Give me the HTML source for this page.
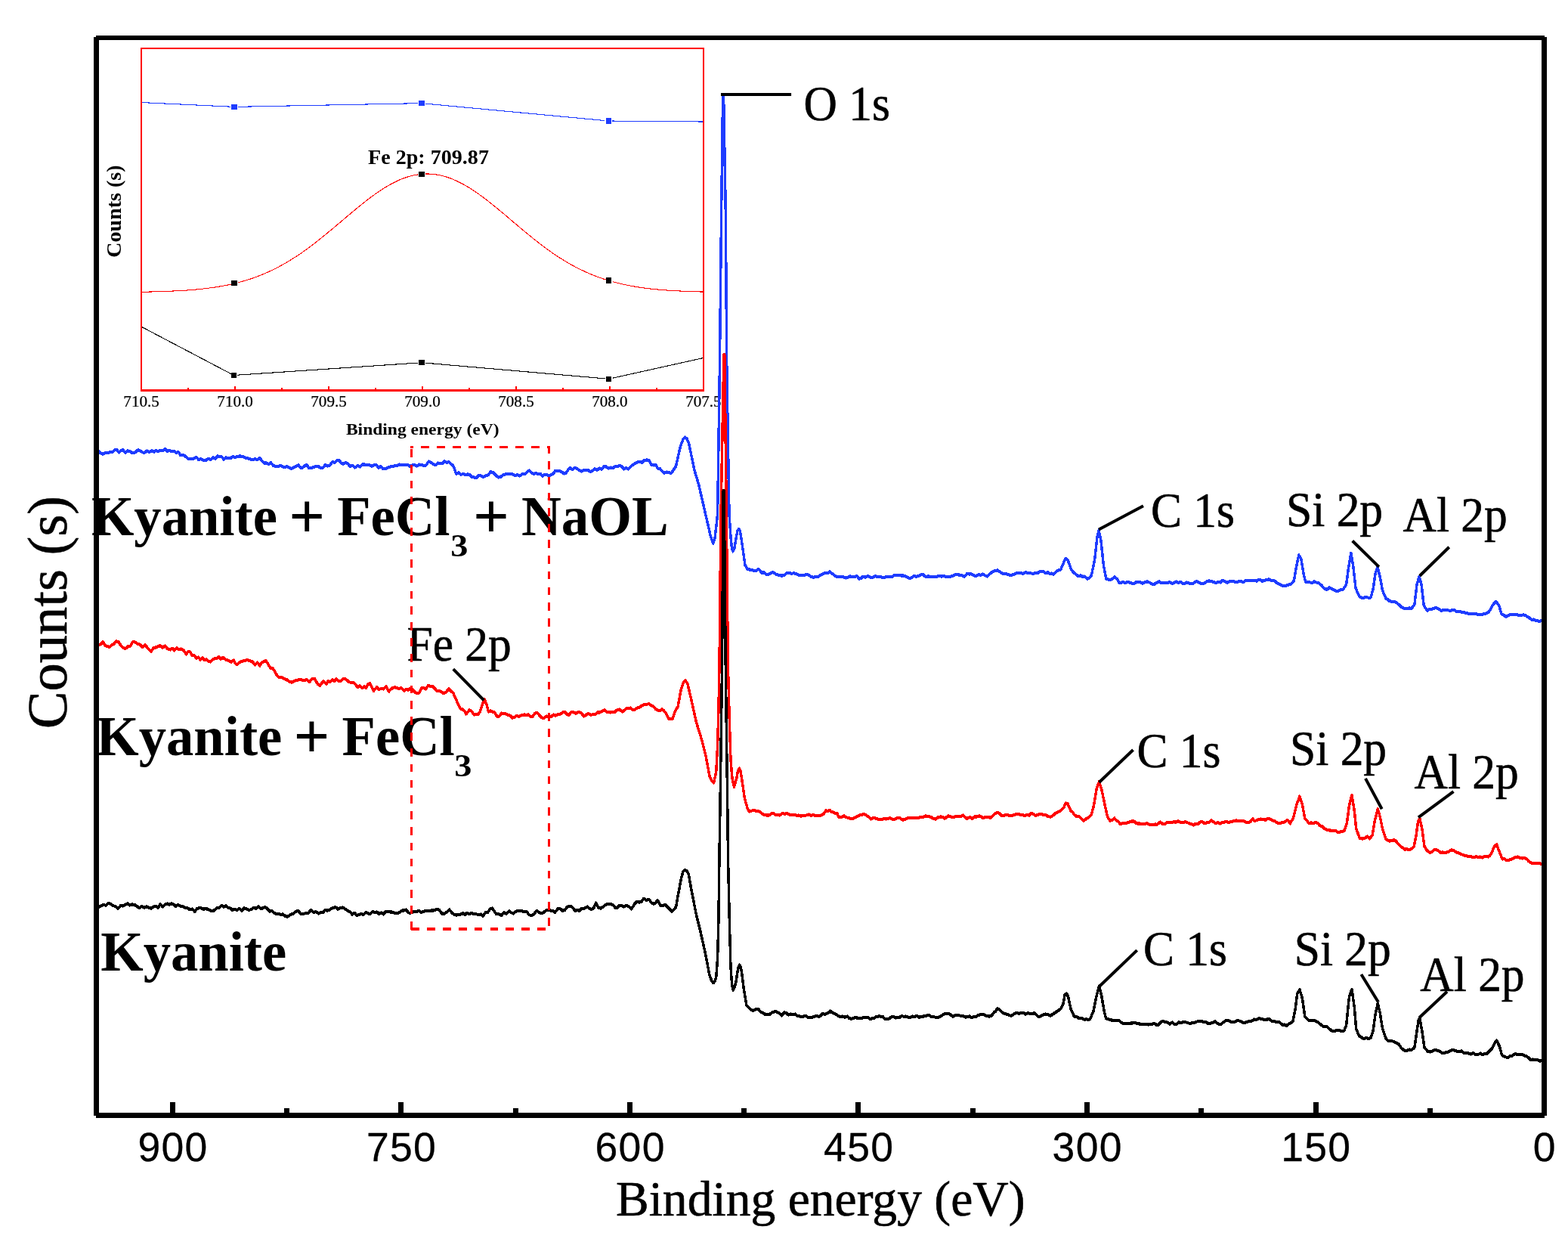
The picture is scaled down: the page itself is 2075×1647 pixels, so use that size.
<!DOCTYPE html>
<html><head><meta charset="utf-8"><title>XPS survey spectra</title>
<style>html,body{margin:0;padding:0;background:#fff}body{width:2075px;height:1647px;overflow:hidden}svg{display:block}</style>
</head><body>
<svg width="2075" height="1647" viewBox="0 0 2075 1647">
<rect x="0" y="0" width="2075" height="1647" fill="#fff"/>
<g shape-rendering="crispEdges"><polyline points="188,135.6 310.2,141.4 557.7,136.6 805.3,160 930,161" fill="none" stroke="#1e3cff" stroke-width="1.1"/>
<polyline points="187.5,386.3 191.5,386.2 195.5,386.1 199.5,386.0 203.5,385.9 207.5,385.8 211.5,385.7 215.5,385.6 219.5,385.5 223.5,385.3 227.5,385.1 231.5,384.9 235.5,384.7 239.5,384.5 243.5,384.3 247.5,384.0 251.5,383.7 255.5,383.4 259.5,383.0 263.5,382.6 267.5,382.2 271.5,381.7 275.5,381.2 279.5,380.7 283.5,380.1 287.5,379.5 291.5,378.8 295.5,378.1 299.5,377.4 303.5,376.5 307.5,375.6 311.5,374.7 315.5,373.7 319.5,372.6 323.5,371.5 327.5,370.2 331.5,369.0 335.5,367.6 339.5,366.1 343.5,364.6 347.5,363.0 351.5,361.3 355.5,359.5 359.5,357.7 363.5,355.7 367.5,353.7 371.5,351.5 375.5,349.3 379.5,347.0 383.5,344.6 387.5,342.1 391.5,339.6 395.5,336.9 399.5,334.2 403.5,331.4 407.5,328.5 411.5,325.5 415.5,322.5 419.5,319.4 423.5,316.2 427.5,313.0 431.5,309.7 435.5,306.4 439.5,303.1 443.5,299.7 447.5,296.4 451.5,293.0 455.5,289.6 459.5,286.2 463.5,282.8 467.5,279.5 471.5,276.1 475.5,272.9 479.5,269.6 483.5,266.5 487.5,263.4 491.5,260.4 495.5,257.5 499.5,254.6 503.5,251.9 507.5,249.4 511.5,246.9 515.5,244.6 519.5,242.4 523.5,240.4 527.5,238.5 531.5,236.9 535.5,235.3 539.5,234.0 543.5,232.9 547.5,231.9 551.5,231.1 555.5,230.6 559.5,230.2 563.5,230.0 567.5,230.0 571.5,230.3 575.5,230.7 579.5,231.3 583.5,232.1 587.5,233.1 591.5,234.3 595.5,235.7 599.5,237.3 603.5,239.0 607.5,240.9 611.5,242.9 615.5,245.2 619.5,247.5 623.5,250.0 627.5,252.6 631.5,255.3 635.5,258.2 639.5,261.1 643.5,264.1 647.5,267.3 651.5,270.4 655.5,273.7 659.5,277.0 663.5,280.3 667.5,283.6 671.5,287.0 675.5,290.4 679.5,293.8 683.5,297.2 687.5,300.6 691.5,303.9 695.5,307.3 699.5,310.6 703.5,313.8 707.5,317.0 711.5,320.1 715.5,323.2 719.5,326.2 723.5,329.2 727.5,332.1 731.5,334.9 735.5,337.6 739.5,340.2 743.5,342.8 747.5,345.2 751.5,347.6 755.5,349.9 759.5,352.1 763.5,354.2 767.5,356.2 771.5,358.1 775.5,360.0 779.5,361.7 783.5,363.4 787.5,365.0 791.5,366.5 795.5,367.9 799.5,369.3 803.5,370.6 807.5,371.8 811.5,372.9 815.5,373.9 819.5,374.9 823.5,375.9 827.5,376.7 831.5,377.6 835.5,378.3 839.5,379.0 843.5,379.7 847.5,380.3 851.5,380.9 855.5,381.4 859.5,381.9 863.5,382.3 867.5,382.7 871.5,383.1 875.5,383.4 879.5,383.8 883.5,384.1 887.5,384.3 891.5,384.6 895.5,384.8 899.5,385.0 903.5,385.2 907.5,385.3 911.5,385.5 915.5,385.6 919.5,385.8 923.5,385.9 927.5,386.0 931.5,386.1" fill="none" stroke="#ff0000" stroke-width="1.1"/>
<polyline points="188,432.7 309.4,496.5 558,479.7 805.5,501.3 930,473.7" fill="none" stroke="#000" stroke-width="1.1"/>
<rect x="305.2" y="139.9" width="10.0" height="3.0" fill="#fff"/>
<rect x="306.4" y="137.8" width="7.6" height="7.2" fill="#1e3cff"/>
<rect x="552.7" y="135.1" width="10.0" height="3.0" fill="#fff"/>
<rect x="553.9" y="133.0" width="7.6" height="7.2" fill="#1e3cff"/>
<rect x="800.3" y="158.5" width="10.0" height="3.0" fill="#fff"/>
<rect x="801.5" y="156.4" width="7.6" height="7.2" fill="#1e3cff"/>
<rect x="304.8" y="372.9" width="10.0" height="3.0" fill="#fff"/>
<rect x="306.0" y="370.8" width="7.6" height="7.2" fill="#000"/>
<rect x="552.7" y="229.0" width="10.0" height="3.0" fill="#fff"/>
<rect x="553.9" y="226.9" width="7.6" height="7.2" fill="#000"/>
<rect x="800.5" y="369.5" width="10.0" height="3.0" fill="#fff"/>
<rect x="801.7" y="367.4" width="7.6" height="7.2" fill="#000"/>
<rect x="304.4" y="495.0" width="10.0" height="3.0" fill="#fff"/>
<rect x="305.6" y="492.9" width="7.6" height="7.2" fill="#000"/>
<rect x="553.0" y="478.2" width="10.0" height="3.0" fill="#fff"/>
<rect x="554.2" y="476.1" width="7.6" height="7.2" fill="#000"/>
<rect x="800.5" y="499.8" width="10.0" height="3.0" fill="#fff"/>
<rect x="801.7" y="497.7" width="7.6" height="7.2" fill="#000"/>
<rect x="187.1" y="64.1" width="743.8" height="452.2" fill="none" stroke="#ff0000" stroke-width="2"/>
<line x1="186.1" y1="516.3" x2="931.9" y2="516.3" stroke="#ff0000" stroke-width="3.6" />
<line x1="249.1" y1="512.5" x2="249.1" y2="516.3" stroke="#ff0000" stroke-width="2" />
<line x1="311.1" y1="510.9" x2="311.1" y2="516.3" stroke="#ff0000" stroke-width="2" />
<line x1="373.0" y1="512.5" x2="373.0" y2="516.3" stroke="#ff0000" stroke-width="2" />
<line x1="435.0" y1="510.9" x2="435.0" y2="516.3" stroke="#ff0000" stroke-width="2" />
<line x1="497.0" y1="512.5" x2="497.0" y2="516.3" stroke="#ff0000" stroke-width="2" />
<line x1="559.0" y1="510.9" x2="559.0" y2="516.3" stroke="#ff0000" stroke-width="2" />
<line x1="621.0" y1="512.5" x2="621.0" y2="516.3" stroke="#ff0000" stroke-width="2" />
<line x1="683.0" y1="510.9" x2="683.0" y2="516.3" stroke="#ff0000" stroke-width="2" />
<line x1="745.0" y1="512.5" x2="745.0" y2="516.3" stroke="#ff0000" stroke-width="2" />
<line x1="806.9" y1="510.9" x2="806.9" y2="516.3" stroke="#ff0000" stroke-width="2" />
<line x1="868.9" y1="512.5" x2="868.9" y2="516.3" stroke="#ff0000" stroke-width="2" />
<text transform="translate(187.10,538.00) scale(1.0350,1)" font-family="'Liberation Serif',serif" font-size="20.40px" font-weight="normal" text-anchor="middle" fill="#000"  stroke="#000" stroke-width="0.25" stroke-linejoin="round">710.5</text>
<text transform="translate(311.07,538.00) scale(1.0350,1)" font-family="'Liberation Serif',serif" font-size="20.40px" font-weight="normal" text-anchor="middle" fill="#000"  stroke="#000" stroke-width="0.25" stroke-linejoin="round">710.0</text>
<text transform="translate(435.03,538.00) scale(1.0350,1)" font-family="'Liberation Serif',serif" font-size="20.40px" font-weight="normal" text-anchor="middle" fill="#000"  stroke="#000" stroke-width="0.25" stroke-linejoin="round">709.5</text>
<text transform="translate(559.00,538.00) scale(1.0350,1)" font-family="'Liberation Serif',serif" font-size="20.40px" font-weight="normal" text-anchor="middle" fill="#000"  stroke="#000" stroke-width="0.25" stroke-linejoin="round">709.0</text>
<text transform="translate(682.97,538.00) scale(1.0350,1)" font-family="'Liberation Serif',serif" font-size="20.40px" font-weight="normal" text-anchor="middle" fill="#000"  stroke="#000" stroke-width="0.25" stroke-linejoin="round">708.5</text>
<text transform="translate(806.93,538.00) scale(1.0350,1)" font-family="'Liberation Serif',serif" font-size="20.40px" font-weight="normal" text-anchor="middle" fill="#000"  stroke="#000" stroke-width="0.25" stroke-linejoin="round">708.0</text>
<text transform="translate(930.90,538.00) scale(1.0350,1)" font-family="'Liberation Serif',serif" font-size="20.40px" font-weight="normal" text-anchor="middle" fill="#000"  stroke="#000" stroke-width="0.25" stroke-linejoin="round">707.5</text>
<text transform="translate(559.20,574.80) scale(1.0700,1)" font-family="'Liberation Serif',serif" font-size="22.00px" font-weight="bold" text-anchor="middle" fill="#000" >Binding energy (eV)</text>
<text transform="translate(160.20,279.60) rotate(-90)" font-family="'Liberation Serif',serif" font-size="28.00px" font-weight="bold" text-anchor="middle" fill="#000" >Counts (s)</text>
<text transform="translate(567.00,217.30) scale(1.0600,1)" font-family="'Liberation Serif',serif" font-size="26.50px" font-weight="bold" text-anchor="middle" fill="#000" >Fe 2p: 709.87</text></g>
<text font-family="'Liberation Serif',serif" font-weight="bold" font-size="75px" fill="#000"><tspan x="120.90" y="707.80" textLength="246.02" lengthAdjust="spacingAndGlyphs">Kyanite</tspan> <tspan x="382.30" y="710.90" font-size="84px">+</tspan> <tspan x="446.20" y="707.80" textLength="149.18" lengthAdjust="spacingAndGlyphs">FeCl</tspan><tspan x="596.20" y="736.30" font-size="42px" textLength="23.10" lengthAdjust="spacingAndGlyphs">3</tspan> <tspan x="626.10" y="710.90" font-size="84px">+</tspan> <tspan x="690.00" y="707.80" textLength="194.83" lengthAdjust="spacingAndGlyphs">NaOL</tspan></text>
<text font-family="'Liberation Serif',serif" font-weight="bold" font-size="75px" fill="#000"><tspan x="127.30" y="998.80" textLength="246.02" lengthAdjust="spacingAndGlyphs">Kyanite</tspan> <tspan x="388.60" y="1001.90" font-size="84px">+</tspan> <tspan x="452.60" y="998.80" textLength="149.18" lengthAdjust="spacingAndGlyphs">FeCl</tspan><tspan x="601.30" y="1027.30" font-size="42px" textLength="23.10" lengthAdjust="spacingAndGlyphs">3</tspan></text>
<text font-family="'Liberation Serif',serif" font-weight="bold" font-size="75px" fill="#000"><tspan x="133.20" y="1283.80" textLength="246.02" lengthAdjust="spacingAndGlyphs">Kyanite</tspan></text>
<g shape-rendering="crispEdges"><polyline transform="scale(1,1.2)" points="127.5,497.25 130.4,497.36 133.3,499.64 136.2,500.58 139.5,499.25 142.7,499.32 146.0,498.08 148.8,498.42 151.7,496.13 154.5,495.78 157.3,498.79 160.1,496.43 162.9,496.19 165.8,498.96 168.6,496.92 172.0,497.47 175.3,499.54 178.7,498.92 182.8,495.83 185.5,496.85 188.2,498.59 190.9,499.17 194.3,497.08 197.6,498.18 201.0,496.92 203.8,498.20 206.5,496.76 209.2,497.47 212.0,496.42 215.1,497.07 218.2,494.75 221.2,497.41 224.3,496.42 227.3,497.68 230.4,497.49 233.4,499.17 236.1,498.12 238.8,502.07 241.5,501.42 244.3,502.37 247.1,504.38 249.8,506.06 252.6,505.67 256.1,505.65 259.7,504.00 262.7,506.73 265.8,505.82 268.8,507.33 272.1,507.74 275.4,505.62 278.7,506.75 282.0,504.33 284.9,505.86 287.7,502.93 290.6,503.15 293.4,503.53 296.3,506.47 299.1,504.52 302.0,504.83 305.1,505.04 308.1,503.52 311.2,504.03 314.3,503.28 317.3,502.87 320.4,503.17 323.8,504.33 327.1,505.16 330.5,505.67 333.8,507.01 337.1,505.95 340.4,506.69 343.7,504.83 346.7,508.06 349.8,510.44 352.8,510.42 355.7,511.55 358.6,510.08 361.5,513.23 364.3,514.10 367.2,514.35 370.1,513.54 373.0,513.75 376.3,515.26 379.7,514.03 383.0,515.83 385.9,516.75 388.8,515.40 391.7,513.94 394.7,512.73 397.6,515.40 400.5,515.57 403.4,513.33 406.1,512.59 408.8,516.15 411.5,515.83 414.7,515.19 417.9,513.90 421.1,514.15 424.2,515.67 427.4,515.77 430.6,512.30 433.8,513.75 436.9,512.67 439.9,508.96 442.9,510.02 446.0,507.67 448.8,507.65 451.6,510.39 454.4,511.41 457.2,510.22 460.0,510.83 463.3,514.27 466.7,513.16 470.0,515.42 473.3,513.26 476.6,514.73 479.8,512.02 483.1,512.12 486.4,512.75 489.3,512.74 492.2,513.86 495.2,512.46 498.1,512.37 501.0,515.87 503.9,514.09 506.9,516.91 509.8,517.01 512.7,515.83 515.9,514.61 519.2,514.18 522.4,513.66 525.7,513.38 528.9,512.08 531.7,512.55 534.5,512.52 537.2,512.86 540.0,512.50 542.9,514.31 545.8,512.77 548.7,512.59 551.7,513.82 554.6,512.09 557.5,512.45 560.4,513.33 563.9,512.83 567.4,508.67 570.5,510.11 573.5,511.57 576.6,512.75 579.5,510.25 582.3,511.17 585.2,511.18 588.1,508.41 590.9,510.07 593.8,509.00 596.8,511.67 599.8,513.33 603.9,522.50 606.9,520.88 609.9,523.12 613.0,522.57 616.0,523.45 619.0,522.83 621.7,523.41 624.5,525.90 627.2,526.25 630.2,527.06 633.2,524.21 636.3,524.25 639.3,525.83 642.7,524.56 646.0,523.72 649.4,520.00 652.8,521.13 656.2,524.00 659.6,526.25 662.6,525.67 665.7,523.69 668.7,522.92 671.7,522.50 674.9,522.20 678.2,522.83 681.4,524.12 684.7,523.40 687.9,524.58 691.3,522.58 694.6,522.57 698.0,520.00 700.8,518.75 703.7,521.40 706.5,522.60 709.4,521.54 712.2,522.83 715.0,522.20 717.9,524.86 720.7,523.13 723.6,523.37 726.4,525.00 729.2,523.21 732.0,522.68 734.7,518.85 737.5,518.83 740.5,519.26 743.6,520.42 746.6,522.17 749.3,521.33 752.0,517.71 754.7,515.83 757.6,517.66 760.5,515.49 763.5,516.60 766.4,518.26 769.3,519.62 772.2,518.42 775.2,518.02 778.1,518.08 781.0,520.00 784.0,519.16 787.1,516.90 790.2,518.30 793.2,516.17 796.2,517.21 799.2,514.45 802.3,514.57 805.3,516.34 808.3,515.46 811.4,515.84 814.4,513.82 817.4,514.17 820.2,513.35 823.1,514.57 825.9,517.09 828.8,515.69 831.6,517.17 834.3,514.55 837.0,512.79 839.7,511.08 843.0,509.84 846.3,508.86 849.6,509.88 852.9,507.33 855.9,507.05 858.9,507.50 862.0,512.13 865.0,512.92 868.0,512.50 870.7,516.59 873.4,516.69 876.1,519.17 879.1,521.52 882.2,520.42 885.2,521.04 888.3,521.67 891.3,517.92 894.4,514.17 897.4,503.17 900.4,492.17 904.0,484.17 906.5,482.08 909.0,483.75 911.6,488.83 915.2,503.17 918.7,517.50 921.7,525.92 924.7,534.33 928.1,546.69 931.5,559.06 934.9,571.42 937.5,580.71 940.0,590.00 943.7,599.00 946.0,593.33 948.0,579.17 949.6,566.67 952.4,405.00 954.6,233.33 956.6,105.83 957.6,105.83 960.3,233.33 961.8,405.00 965.0,566.67 967.0,591.67 968.5,604.17 970.0,607.92 972.0,604.17 974.0,593.33 976.0,585.00 977.8,583.17 979.5,585.83 981.0,593.33 983.5,608.21 986.0,623.08 989.0,627.25 991.9,627.94 994.9,628.18 997.8,629.33 1000.9,628.96 1004.0,627.25 1007.9,631.42 1011.0,631.22 1014.0,633.00 1017.0,633.15 1020.0,631.98 1023.0,630.83 1026.1,632.69 1029.2,633.57 1032.3,634.51 1035.4,634.58 1038.3,633.69 1041.3,631.42 1044.2,631.42 1047.3,632.48 1050.5,631.76 1053.6,632.57 1056.7,633.88 1059.9,634.11 1063.0,634.58 1065.8,633.60 1068.6,633.00 1073.0,635.58 1076.3,636.53 1079.7,635.83 1083.0,635.58 1086.2,633.78 1089.3,632.67 1092.2,631.35 1095.1,631.89 1098.0,630.33 1100.0,631.83 1102.8,633.17 1105.6,635.22 1108.4,636.00 1111.1,635.78 1113.8,635.54 1116.6,636.38 1119.3,637.09 1122.0,636.50 1124.9,635.33 1127.8,636.22 1130.8,636.04 1133.7,634.67 1137.0,638.17 1139.5,637.54 1142.0,635.58 1145.2,636.40 1148.4,634.75 1151.6,636.21 1154.8,636.83 1157.9,635.18 1161.1,635.78 1164.3,635.88 1167.5,636.50 1170.7,636.33 1173.8,635.87 1177.0,635.75 1180.2,636.18 1183.3,634.27 1186.5,634.16 1189.6,634.09 1192.8,634.67 1195.5,634.52 1198.3,635.06 1201.0,636.67 1203.7,637.43 1206.5,636.90 1209.2,634.97 1212.0,635.60 1214.7,635.33 1218.1,633.89 1221.4,633.25 1224.8,635.83 1227.8,635.43 1230.8,635.51 1233.8,636.15 1236.8,636.02 1239.8,635.53 1242.8,635.16 1245.8,635.46 1248.8,635.02 1251.8,635.83 1254.9,635.63 1258.0,635.66 1261.1,634.62 1264.2,633.65 1267.3,633.54 1270.4,633.92 1273.3,634.48 1276.3,635.58 1279.6,632.50 1282.5,632.89 1285.5,632.83 1289.7,634.67 1292.5,634.82 1295.2,633.49 1298.0,633.94 1300.7,632.83 1303.7,634.47 1306.6,635.58 1309.5,633.06 1312.5,630.83 1316.2,629.43 1320.0,628.58 1323.0,630.20 1326.0,631.83 1329.2,632.79 1332.3,632.70 1335.5,633.82 1338.7,633.92 1341.8,633.14 1344.9,631.98 1348.0,631.83 1351.1,631.91 1354.3,632.26 1357.4,630.91 1360.5,631.67 1363.6,631.67 1366.8,632.66 1369.9,631.83 1373.2,631.74 1376.6,629.75 1380.0,629.92 1383.3,631.50 1386.7,631.08 1389.2,632.44 1391.8,632.01 1394.3,633.25 1396.8,631.05 1399.4,629.00 1403.6,628.00 1407.8,619.92 1410.3,615.67 1412.9,617.08 1415.4,622.71 1417.9,628.33 1421.0,631.35 1424.1,633.35 1427.2,635.33 1430.0,634.33 1432.5,635.71 1435.0,635.42 1439.3,638.25 1441.8,636.93 1444.3,634.33 1448.6,617.50 1451.9,592.17 1454.1,584.42 1457.0,596.42 1460.4,623.08 1463.7,637.83 1466.7,638.90 1469.6,639.25 1472.2,638.13 1474.7,636.00 1478.9,638.58 1480.6,642.08 1483.4,642.39 1486.2,641.56 1489.0,642.77 1491.9,641.68 1494.7,642.14 1497.5,643.08 1500.4,643.55 1503.4,641.85 1506.3,641.82 1509.2,641.72 1512.2,643.28 1515.1,641.64 1518.1,641.18 1521.0,642.08 1525.3,643.92 1528.2,643.74 1531.2,642.08 1534.0,641.19 1536.8,642.69 1539.6,642.25 1542.4,642.53 1545.2,642.72 1548.0,641.67 1551.4,643.50 1554.0,642.46 1556.5,641.08 1559.3,642.40 1562.2,641.41 1565.0,643.08 1567.5,643.16 1570.0,642.08 1572.8,642.58 1575.6,643.49 1578.4,643.50 1581.3,641.44 1584.3,641.08 1587.2,642.66 1590.2,643.17 1593.6,643.07 1597.0,641.08 1600.1,640.30 1603.2,641.04 1606.2,641.72 1609.3,642.46 1612.4,641.36 1615.5,642.08 1617.2,640.00 1620.6,640.56 1624.0,642.50 1627.0,641.04 1629.9,640.67 1633.1,641.12 1636.3,641.62 1639.5,641.04 1642.7,641.18 1645.9,641.67 1648.4,640.00 1651.3,639.91 1654.2,639.94 1657.0,640.22 1659.9,639.63 1662.8,640.67 1665.3,638.83 1667.8,639.22 1670.4,640.64 1672.9,640.00 1676.2,639.10 1679.6,638.58 1682.2,639.83 1684.7,640.00 1687.2,640.51 1689.7,642.50 1692.8,644.02 1695.9,645.28 1699.0,645.83 1702.1,645.57 1705.2,644.59 1708.3,643.92 1712.5,640.00 1715.9,623.08 1718.8,611.83 1721.8,616.08 1725.2,632.92 1727.7,641.33 1730.6,641.45 1733.4,641.94 1736.3,642.64 1739.1,641.17 1742.0,642.08 1745.7,643.04 1749.3,645.75 1752.0,648.25 1754.7,649.67 1757.0,649.57 1759.3,647.67 1762.1,649.01 1765.0,650.15 1767.8,651.58 1770.9,651.61 1773.9,650.01 1777.0,650.25 1779.3,647.38 1781.6,644.50 1784.7,625.17 1787.8,609.75 1790.9,625.17 1794.0,648.33 1796.3,652.83 1798.6,657.33 1800.9,658.48 1803.2,659.25 1805.9,658.68 1808.6,658.34 1811.3,659.16 1814.0,658.58 1817.1,649.58 1820.2,631.67 1823.0,625.17 1826.4,636.75 1829.5,650.83 1831.8,655.38 1834.0,659.92 1836.3,660.77 1838.7,662.50 1841.8,663.24 1844.9,663.08 1848.0,664.52 1851.0,666.33 1854.5,669.35 1858.0,670.83 1861.3,671.02 1864.7,670.33 1868.0,670.83 1871.9,666.33 1875.0,644.50 1878.0,635.50 1881.1,644.50 1884.2,667.50 1886.5,670.42 1888.8,673.33 1891.5,671.38 1894.2,671.50 1897.3,670.66 1900.4,669.92 1903.8,671.37 1907.3,673.33 1910.2,672.53 1913.2,672.84 1916.2,672.66 1919.1,673.54 1922.0,672.08 1925.0,672.75 1928.1,674.46 1931.2,674.00 1934.3,674.90 1937.4,675.33 1940.5,675.58 1943.6,676.70 1946.7,676.99 1949.8,676.73 1952.9,676.89 1956.0,677.25 1958.7,677.50 1961.3,677.56 1964.0,676.35 1966.7,676.33 1969.0,675.34 1971.3,673.33 1973.7,669.83 1976.0,666.33 1979.8,663.08 1983.7,667.50 1986.8,676.67 1989.9,678.18 1993.0,679.83 1996.1,678.39 1999.1,677.54 2002.2,677.25 2005.0,677.80 2007.7,677.80 2010.5,678.49 2013.2,678.35 2016.0,677.67 2018.7,678.52 2021.5,679.83 2024.2,681.39 2026.9,683.33 2029.7,682.82 2032.5,684.11 2035.3,684.61 2038.2,684.87 2041.0,683.64 2043.8,684.33" fill="none" stroke="#1e3cff" stroke-width="3.45" stroke-linejoin="round" stroke-linecap="butt"/>
<polyline transform="scale(1,1.2)" points="127.5,712.00 130.4,711.08 133.3,710.15 136.2,707.83 139.2,711.46 142.3,712.83 145.1,713.05 147.9,710.79 150.6,710.01 153.4,706.92 156.8,707.64 160.1,711.84 163.5,714.50 166.5,714.87 169.6,712.40 172.6,712.04 175.7,707.68 178.7,707.83 182.1,709.66 185.4,710.75 188.8,713.67 191.9,711.17 194.6,713.58 197.3,715.95 200.0,717.92 203.5,713.93 207.0,713.67 209.8,712.16 212.6,711.99 215.4,714.01 218.2,712.00 221.8,715.14 225.3,716.25 228.1,714.78 230.9,717.06 233.8,714.37 236.6,716.03 239.4,715.42 242.9,716.90 246.5,721.25 249.1,718.09 251.6,718.75 254.3,722.53 257.0,722.36 259.7,725.83 262.4,724.52 265.1,727.24 267.8,725.17 270.5,727.84 273.2,726.86 275.9,728.92 278.6,729.66 281.3,727.01 284.0,725.83 286.8,726.22 289.5,724.12 292.2,726.65 295.0,724.67 298.5,727.06 302.0,728.00 305.6,729.79 309.3,728.00 311.8,731.76 314.3,732.50 317.4,729.94 320.4,728.92 323.8,728.27 327.1,727.41 330.5,728.58 334.1,729.48 337.6,733.08 340.6,730.25 343.7,733.92 346.4,730.28 349.1,729.21 351.8,728.00 354.9,732.25 357.9,736.50 360.9,736.68 363.9,740.67 366.4,744.31 369.0,746.58 372.5,746.80 376.0,748.25 379.5,749.23 383.0,751.67 386.4,752.33 389.9,750.48 393.3,750.00 396.3,749.09 399.4,749.51 402.4,750.16 405.4,749.17 409.5,751.67 413.1,748.26 416.6,748.25 420.1,753.86 423.6,755.83 427.7,750.83 431.7,754.17 434.4,750.67 437.1,751.79 439.8,749.17 442.5,751.04 445.2,748.43 447.9,750.83 451.4,750.48 455.0,747.92 458.0,748.93 461.0,751.27 464.0,752.50 467.1,752.28 470.1,754.10 473.2,757.50 476.2,756.00 479.3,758.69 482.3,756.67 484.4,758.33 486.9,754.67 489.4,753.33 491.9,757.50 494.5,761.67 498.5,757.50 501.6,759.98 504.6,759.17 507.6,759.61 510.7,756.67 514.7,762.25 517.2,759.70 519.8,758.33 522.6,757.78 525.3,758.43 528.1,759.39 530.9,758.33 535.0,761.67 537.5,759.75 540.0,760.83 544.0,758.33 546.8,761.23 549.5,763.36 552.3,764.17 555.0,763.60 557.7,758.50 560.4,758.33 563.4,759.63 566.5,755.93 569.5,756.47 572.5,756.67 575.2,758.76 577.9,761.60 580.6,761.67 583.7,762.30 586.7,764.17 590.2,763.29 593.8,759.17 596.8,761.84 599.8,764.17 602.9,769.83 605.9,775.50 609.0,781.17 611.7,781.90 614.3,783.49 617.0,787.08 621.0,782.83 624.1,784.03 627.2,787.92 629.9,787.53 632.6,787.60 635.3,784.58 639.3,774.42 641.3,771.08 644.4,777.83 646.4,784.58 649.0,783.29 651.5,784.58 654.5,785.35 657.5,789.58 660.5,789.78 663.6,786.25 666.7,786.80 669.7,787.08 672.4,788.14 675.1,788.91 677.8,791.33 680.8,790.61 683.8,789.17 687.2,790.00 690.6,788.16 694.0,787.92 696.7,788.31 699.3,787.60 702.0,790.00 705.0,789.72 708.0,786.25 711.1,785.73 714.1,788.77 717.2,791.36 720.3,791.33 723.3,789.46 726.4,790.42 729.4,790.05 732.4,787.92 735.5,789.02 738.5,787.17 741.5,787.15 744.6,785.42 747.3,784.88 750.0,787.11 752.7,788.33 755.7,785.28 758.7,784.92 762.1,786.54 765.5,784.74 768.9,785.83 772.9,789.58 776.0,787.90 779.0,786.58 781.8,788.26 784.7,787.47 787.5,787.71 790.4,785.47 793.2,785.42 796.6,784.08 800.0,782.83 803.6,785.00 807.3,785.42 810.3,785.13 813.4,785.00 816.5,782.70 819.5,782.00 823.5,784.58 826.2,783.08 828.9,780.95 831.6,781.17 834.4,780.43 837.3,782.51 840.1,782.13 843.0,780.59 845.8,779.83 848.8,778.37 851.9,776.92 855.3,776.60 858.6,775.95 862.0,777.83 865.0,779.04 868.0,782.00 870.7,783.08 873.3,783.41 876.0,782.00 878.6,783.51 881.3,786.08 885.0,792.83 887.5,792.83 890.0,792.83 893.8,783.33 897.0,779.17 901.4,759.42 904.5,752.50 907.0,749.83 910.0,754.17 912.5,763.08 915.0,772.00 918.2,783.92 921.4,795.83 923.9,802.78 926.5,809.72 929.0,816.67 931.5,825.00 934.0,833.33 936.5,844.42 939.0,855.50 942.0,860.83 944.6,862.83 947.7,851.33 949.6,822.08 950.9,783.33 952.0,733.33 954.0,566.67 957.9,391.00 958.9,391.00 961.3,566.67 963.4,733.33 965.3,793.92 967.0,837.50 969.0,858.33 971.5,867.50 974.7,858.33 976.5,850.00 978.4,847.17 980.0,850.00 981.6,858.33 985.3,879.50 989.0,890.83 991.6,894.67 995.3,893.69 999.0,893.67 1002.2,894.14 1005.4,894.67 1008.5,897.25 1011.6,898.36 1014.8,898.72 1017.9,898.83 1020.5,897.10 1023.0,896.25 1025.9,898.08 1028.8,898.30 1031.7,898.83 1035.4,896.67 1038.6,897.26 1041.7,896.44 1044.8,898.02 1048.0,898.33 1051.0,897.96 1054.0,899.04 1057.0,898.75 1060.0,899.69 1063.0,899.17 1066.8,898.82 1070.5,897.83 1073.4,898.98 1076.4,898.50 1079.3,899.33 1082.6,899.15 1086.0,898.85 1089.3,897.83 1093.0,893.67 1095.5,894.00 1098.0,892.92 1100.0,895.17 1102.5,895.23 1105.1,896.69 1107.6,896.33 1110.0,900.83 1113.5,900.93 1116.9,899.42 1120.2,901.07 1123.6,901.92 1127.0,902.48 1130.3,901.96 1133.7,900.50 1138.0,898.33 1141.0,898.04 1143.9,897.67 1146.4,898.90 1148.9,900.00 1152.3,902.92 1155.7,901.82 1159.0,902.17 1162.4,903.08 1165.8,903.49 1169.1,902.68 1172.5,902.92 1175.0,902.62 1177.6,901.50 1180.1,902.81 1182.6,903.17 1185.2,902.83 1187.7,901.50 1191.1,902.00 1194.5,903.92 1197.8,903.40 1201.2,901.67 1204.6,901.80 1208.0,901.94 1211.3,901.37 1214.7,901.50 1218.1,901.07 1221.4,900.71 1224.8,899.42 1228.2,900.25 1231.6,900.50 1234.9,902.31 1238.3,903.17 1241.7,900.77 1245.0,900.42 1247.5,900.72 1250.0,902.50 1252.6,900.83 1255.2,899.42 1258.6,900.45 1261.9,900.83 1265.3,899.81 1268.7,900.00 1271.7,899.74 1274.6,898.67 1277.1,900.87 1279.6,902.50 1283.8,900.83 1286.4,902.50 1289.5,900.48 1292.5,900.38 1295.6,899.42 1298.2,899.95 1300.7,901.67 1304.1,900.65 1307.4,900.76 1310.8,901.50 1315.0,898.33 1317.5,896.69 1320.0,895.83 1323.0,896.94 1326.0,899.42 1329.4,898.69 1332.8,898.29 1336.1,899.15 1339.5,899.17 1343.2,897.95 1347.0,897.25 1350.1,898.08 1353.3,898.61 1356.4,899.00 1359.1,897.99 1361.8,899.00 1364.6,896.61 1367.3,897.25 1369.9,899.08 1372.7,898.41 1375.5,897.66 1378.3,897.67 1381.1,898.25 1383.9,898.39 1386.7,900.00 1389.7,900.55 1392.6,899.67 1396.8,896.58 1400.2,894.89 1403.6,893.75 1407.8,890.25 1410.3,885.33 1412.9,886.00 1417.0,893.75 1419.5,895.20 1422.0,898.67 1424.6,899.86 1427.1,899.68 1429.7,901.50 1432.0,903.22 1434.2,904.75 1436.8,902.99 1439.3,901.92 1441.8,900.30 1444.3,898.33 1447.7,887.17 1451.0,870.25 1454.5,861.83 1457.8,870.25 1462.0,887.17 1465.4,899.83 1468.8,904.75 1471.8,904.33 1474.7,901.92 1477.2,904.36 1479.8,905.42 1482.6,908.50 1484.9,907.82 1487.3,907.50 1490.0,907.66 1492.8,906.77 1495.5,905.65 1498.3,905.42 1500.8,905.47 1503.4,907.29 1505.9,907.92 1508.9,907.95 1511.8,908.70 1514.8,908.62 1517.7,907.50 1521.9,909.33 1525.0,909.43 1528.1,908.73 1531.2,908.92 1535.4,906.08 1538.3,908.14 1541.3,908.50 1544.2,906.81 1547.2,906.44 1550.1,906.83 1553.0,906.08 1556.1,906.33 1559.1,905.30 1562.2,906.36 1565.2,906.93 1568.3,906.08 1571.0,906.71 1573.8,907.73 1576.5,908.18 1579.3,909.67 1582.4,908.02 1585.4,908.30 1588.5,906.08 1591.3,906.16 1594.2,907.75 1597.0,907.08 1600.0,906.56 1602.9,904.25 1605.8,906.08 1608.8,907.50 1611.7,906.72 1614.6,908.02 1617.5,906.71 1620.3,906.27 1623.2,905.80 1626.1,906.98 1629.0,905.67 1632.3,905.34 1635.7,904.59 1639.0,904.75 1642.4,905.28 1645.9,905.10 1649.3,906.50 1651.8,906.56 1654.3,906.08 1657.7,902.50 1660.2,905.17 1663.0,904.29 1665.9,903.22 1668.7,902.92 1671.8,903.63 1675.0,903.83 1678.2,902.17 1681.3,903.33 1684.1,904.57 1686.9,905.18 1689.7,906.83 1693.1,907.53 1696.5,906.94 1699.9,906.08 1704.0,904.00 1707.4,907.92 1711.7,901.17 1715.9,887.17 1719.8,878.00 1723.5,887.17 1726.8,902.50 1729.3,904.45 1731.9,907.50 1735.2,907.00 1738.6,907.50 1741.2,906.67 1743.9,907.33 1746.7,910.31 1749.5,910.72 1752.3,913.08 1755.4,914.44 1758.5,915.33 1761.6,915.53 1764.7,916.15 1767.8,916.08 1770.8,917.58 1773.6,917.06 1776.5,916.61 1779.3,915.33 1782.4,907.33 1785.5,888.08 1789.0,876.50 1792.4,894.50 1794.7,913.75 1797.1,918.92 1799.4,924.08 1802.8,924.65 1806.3,924.08 1809.4,922.08 1812.5,924.67 1816.3,920.17 1819.4,904.75 1823.3,891.92 1826.4,900.83 1829.5,913.75 1831.8,919.54 1834.0,925.33 1836.3,926.36 1838.7,927.25 1841.3,926.59 1843.8,926.20 1846.4,926.33 1849.5,929.44 1852.6,932.42 1855.7,934.26 1858.8,936.25 1861.8,936.16 1864.9,936.67 1868.0,935.70 1871.0,933.67 1874.2,920.17 1876.5,906.08 1878.8,902.17 1881.9,913.75 1885.0,933.00 1888.8,938.17 1892.7,940.00 1895.3,939.09 1897.8,936.77 1900.4,936.67 1903.5,937.80 1906.6,940.00 1909.4,939.49 1912.2,940.07 1915.0,939.59 1917.9,938.43 1920.7,936.86 1923.5,937.50 1926.6,939.41 1929.7,939.95 1932.8,941.42 1935.5,942.23 1938.2,943.16 1940.9,943.64 1943.6,944.00 1946.7,944.17 1949.8,945.31 1952.9,944.38 1956.0,944.83 1958.8,944.55 1961.5,945.50 1964.3,944.03 1967.0,944.19 1969.8,944.58 1972.1,942.76 1974.4,939.50 1977.5,933.00 1980.6,931.08 1984.4,939.50 1988.3,947.17 1990.9,946.56 1993.4,948.56 1996.0,948.17 1999.1,947.69 2002.2,946.23 2005.2,945.02 2008.3,944.58 2011.4,945.61 2014.5,946.31 2017.6,945.83 2020.2,946.78 2022.7,949.23 2025.3,951.00 2028.4,951.50 2031.5,951.77 2034.5,951.80 2037.6,951.80 2040.7,953.13 2043.8,953.33" fill="none" stroke="#ff0000" stroke-width="3.45" stroke-linejoin="round" stroke-linecap="butt"/>
<polyline transform="scale(1,1.2)" points="127.5,999.17 131.0,999.83 134.1,998.49 137.1,997.16 140.2,998.41 143.2,995.53 146.3,996.50 149.7,998.33 153.0,999.37 156.4,1001.58 159.4,998.47 162.5,998.78 165.5,997.33 168.7,995.99 171.8,997.93 175.0,996.97 178.2,997.47 181.4,999.18 184.6,1001.15 187.7,998.88 190.9,1000.75 193.9,999.38 197.0,1000.62 200.0,1001.53 203.0,999.80 206.1,998.80 209.1,1000.71 212.2,996.84 215.2,999.64 218.2,997.15 221.3,996.28 224.3,997.33 227.2,996.15 230.0,997.15 232.9,999.38 235.8,997.22 238.6,999.04 241.5,999.00 244.7,1000.73 248.0,1000.91 251.2,1002.78 254.5,1002.12 257.7,1005.00 260.4,1001.90 263.1,1001.04 265.8,1000.75 269.0,1002.17 272.3,1001.94 275.5,1002.24 278.8,1004.01 282.0,1004.42 284.8,1002.67 287.5,1000.52 290.2,1000.86 293.0,998.17 295.9,999.64 298.8,998.60 301.6,1000.58 304.5,1001.10 307.4,1003.15 310.3,1002.42 313.5,1003.30 316.7,1001.60 319.9,1004.26 323.0,1000.95 326.2,1002.10 329.4,1003.40 332.6,1002.42 335.6,1000.65 338.7,1001.51 341.7,999.36 344.7,1001.34 347.8,1001.28 350.8,999.83 353.9,1001.82 356.9,1004.69 359.9,1004.24 363.0,1006.67 365.9,1007.77 368.7,1007.74 371.6,1008.04 374.4,1007.93 377.3,1009.76 380.1,1010.51 383.0,1009.17 385.8,1007.68 388.5,1007.02 391.3,1005.00 394.7,1004.15 398.0,1007.44 401.4,1007.50 404.8,1006.65 408.1,1006.56 411.5,1003.25 414.9,1005.76 418.2,1004.98 421.6,1007.08 424.4,1005.88 427.3,1006.20 430.1,1002.95 433.0,1003.87 435.8,1003.25 438.6,1001.48 441.5,1000.78 444.3,1000.06 447.2,1002.28 450.0,1000.75 453.3,1000.44 456.7,1002.00 460.0,1004.08 463.1,1004.94 466.1,1008.05 469.1,1006.29 472.2,1009.17 475.2,1008.14 478.3,1007.69 481.3,1008.14 484.4,1005.83 487.3,1007.09 490.2,1007.30 493.1,1005.09 495.9,1005.65 498.8,1005.47 501.7,1007.52 504.6,1006.08 507.5,1007.92 510.4,1004.91 513.3,1005.09 516.2,1005.39 519.1,1005.48 522.0,1006.53 524.9,1006.67 528.3,1006.04 531.6,1003.81 535.0,1003.75 537.5,1002.89 540.0,1005.83 542.0,1006.67 545.1,1005.71 548.1,1004.87 551.2,1004.98 554.3,1004.08 557.5,1005.75 560.8,1004.68 564.0,1003.94 567.3,1004.27 570.5,1003.75 574.0,1003.76 577.6,1002.42 581.2,1003.04 584.7,1007.08 588.1,1007.17 591.4,1005.27 594.8,1002.75 597.8,1006.21 600.9,1007.95 603.9,1008.83 606.8,1008.25 609.6,1008.11 612.5,1006.81 615.3,1008.68 618.1,1006.32 621.0,1007.83 624.0,1006.54 627.1,1007.44 630.1,1007.62 633.2,1008.66 636.2,1007.92 639.3,1010.00 642.3,1006.00 645.4,1005.83 648.5,1002.12 651.5,1001.08 654.0,1004.29 656.5,1007.50 660.0,1007.81 663.6,1009.17 667.0,1005.76 670.3,1007.43 673.7,1004.42 676.8,1006.19 679.8,1007.08 682.5,1004.85 685.2,1004.36 687.9,1004.42 690.9,1004.48 693.9,1005.20 697.0,1004.93 700.0,1008.37 703.0,1009.57 706.0,1008.33 710.0,1004.08 713.0,1005.45 716.0,1007.08 719.1,1006.19 722.2,1003.83 725.3,1003.06 728.4,1003.75 731.5,1004.19 734.5,1005.83 738.5,1001.58 741.5,1001.93 744.6,1004.08 747.6,1003.22 750.6,999.83 753.3,999.12 756.0,999.17 758.7,1001.58 761.4,1004.15 764.1,1003.36 766.8,1004.08 769.5,1001.62 772.2,1002.03 774.9,1000.75 777.6,999.49 780.3,1001.97 783.0,1002.42 785.9,1000.71 788.7,995.33 792.0,1000.75 795.1,1001.29 798.1,999.80 801.2,997.28 804.2,996.84 807.3,996.50 810.8,997.35 814.4,1000.75 817.0,1000.50 819.5,998.17 822.5,998.50 825.5,999.65 828.6,998.14 831.6,999.00 835.7,1002.08 839.7,996.50 842.8,993.96 845.8,994.74 848.9,993.92 851.9,990.58 855.5,992.35 859.0,991.42 862.0,995.13 865.0,996.50 867.5,995.60 870.0,992.25 874.0,998.17 877.1,998.67 880.2,997.33 883.3,999.83 886.3,1002.33 889.4,1004.83 892.0,1002.42 894.5,1000.00 897.6,985.50 901.4,968.83 904.0,960.83 906.4,958.92 909.0,960.42 911.4,964.17 915.0,981.33 918.2,994.83 921.4,1008.33 923.9,1016.67 926.4,1025.00 929.5,1036.58 932.7,1048.17 935.9,1061.75 939.0,1075.33 942.0,1081.67 944.0,1083.67 946.0,1081.67 947.7,1077.50 949.6,1056.50 950.9,1014.75 952.0,941.67 952.7,905.00 955.5,738.33 957.2,540.83 958.2,540.83 960.3,738.33 963.0,905.00 963.4,941.67 965.3,1014.75 967.0,1066.67 968.7,1085.83 970.3,1091.50 972.0,1088.33 974.0,1082.50 976.5,1068.33 978.4,1063.83 980.0,1065.83 981.6,1072.17 984.5,1091.50 988.0,1108.50 990.8,1110.88 993.6,1113.25 997.0,1114.04 1000.4,1112.75 1003.8,1112.67 1006.6,1115.49 1009.4,1116.42 1012.4,1118.11 1015.5,1118.68 1018.5,1118.33 1020.8,1116.71 1023.0,1115.67 1025.8,1115.06 1028.7,1115.67 1031.6,1116.99 1034.4,1119.50 1037.8,1116.08 1040.6,1116.84 1043.4,1118.92 1046.4,1117.94 1049.5,1118.52 1052.5,1117.92 1055.2,1119.95 1058.0,1120.25 1061.0,1120.99 1064.0,1120.21 1067.0,1120.25 1069.5,1121.67 1072.1,1121.64 1074.8,1121.59 1077.4,1120.58 1080.7,1119.81 1084.0,1120.83 1086.3,1119.47 1088.7,1117.42 1091.6,1118.10 1094.4,1117.00 1096.7,1116.40 1098.9,1114.58 1101.8,1116.58 1104.6,1117.50 1108.0,1119.12 1111.4,1120.83 1114.7,1120.39 1118.0,1121.33 1121.6,1120.25 1123.8,1122.67 1127.2,1123.10 1130.6,1121.91 1134.0,1122.08 1137.0,1122.49 1140.0,1122.61 1143.0,1121.33 1145.7,1121.37 1148.5,1121.65 1151.2,1123.10 1154.0,1122.89 1156.7,1122.67 1159.0,1121.04 1161.2,1120.83 1163.5,1120.03 1165.7,1120.83 1168.4,1120.88 1171.0,1123.32 1173.7,1123.25 1176.5,1122.96 1179.3,1121.33 1182.3,1120.57 1185.4,1122.04 1188.4,1121.33 1190.7,1121.62 1193.0,1119.83 1195.8,1120.63 1198.6,1120.43 1201.4,1121.31 1204.2,1121.67 1207.6,1120.45 1211.0,1120.83 1213.7,1119.66 1216.4,1121.62 1219.2,1120.81 1221.9,1120.42 1224.6,1120.25 1229.0,1118.92 1232.1,1120.77 1235.1,1120.61 1238.2,1121.67 1241.2,1121.56 1244.3,1120.54 1247.3,1118.92 1249.9,1117.82 1252.6,1117.43 1255.2,1117.50 1258.1,1118.72 1260.9,1120.83 1264.3,1119.31 1267.7,1118.92 1271.1,1119.91 1274.4,1120.01 1277.8,1121.33 1280.5,1121.06 1283.2,1120.33 1286.0,1121.92 1288.7,1120.62 1291.4,1120.83 1294.8,1118.92 1298.2,1118.53 1301.6,1118.33 1306.0,1120.25 1308.9,1120.43 1311.8,1120.25 1315.2,1116.08 1317.5,1114.88 1319.8,1111.92 1322.0,1112.87 1324.3,1114.17 1327.2,1116.74 1330.0,1117.50 1332.6,1118.28 1335.3,1119.12 1337.9,1119.83 1340.2,1118.72 1342.4,1117.50 1345.3,1116.46 1348.2,1117.37 1351.1,1116.81 1354.1,1116.43 1357.0,1118.15 1359.9,1116.79 1362.8,1117.50 1366.2,1117.19 1369.6,1117.00 1374.0,1120.83 1377.0,1120.35 1380.0,1119.01 1383.0,1117.92 1386.5,1118.50 1390.0,1119.83 1393.4,1118.00 1396.8,1116.08 1400.2,1114.29 1403.6,1112.25 1407.0,1106.67 1409.2,1096.25 1411.5,1095.33 1413.7,1099.08 1417.0,1112.25 1419.3,1116.54 1421.7,1120.83 1424.5,1120.62 1427.2,1122.24 1430.0,1122.75 1432.5,1122.91 1435.0,1124.17 1437.5,1123.46 1440.1,1124.31 1442.6,1123.50 1446.9,1115.00 1450.2,1101.00 1454.5,1086.92 1457.8,1098.17 1461.2,1115.00 1463.7,1122.75 1467.1,1123.68 1470.5,1124.58 1473.9,1124.83 1477.2,1125.37 1480.6,1124.92 1483.9,1127.52 1487.3,1128.33 1490.3,1128.08 1493.4,1128.31 1496.4,1127.95 1499.5,1127.83 1502.5,1127.67 1505.3,1128.67 1508.2,1128.73 1511.0,1129.42 1513.8,1129.25 1516.6,1128.90 1519.4,1129.66 1522.2,1128.90 1525.0,1129.05 1527.8,1128.00 1530.3,1129.87 1532.9,1129.83 1537.0,1126.33 1539.6,1126.03 1542.1,1126.91 1544.7,1127.00 1548.0,1129.08 1551.4,1127.00 1554.8,1129.42 1557.3,1129.17 1559.9,1127.00 1562.9,1127.90 1565.8,1126.55 1568.8,1126.68 1571.7,1127.67 1575.0,1128.33 1578.4,1127.54 1581.8,1127.00 1585.2,1125.85 1588.5,1125.99 1591.9,1126.33 1595.3,1126.41 1598.7,1128.33 1601.2,1128.37 1603.7,1127.67 1607.9,1126.00 1610.5,1128.03 1613.0,1128.83 1615.5,1129.11 1618.0,1127.67 1622.3,1124.92 1625.7,1124.88 1629.0,1126.33 1632.0,1126.61 1634.9,1126.31 1637.8,1125.00 1640.8,1125.58 1643.6,1126.89 1646.5,1127.54 1649.3,1127.00 1652.7,1125.89 1656.0,1126.00 1659.4,1123.75 1662.7,1124.23 1666.0,1122.75 1669.5,1123.24 1672.9,1124.17 1676.2,1123.81 1679.6,1123.50 1683.0,1125.60 1686.4,1125.58 1689.7,1127.01 1693.0,1127.00 1697.3,1129.83 1699.8,1129.60 1702.4,1130.83 1706.6,1128.33 1710.8,1126.33 1714.2,1112.25 1716.7,1095.42 1720.0,1091.17 1723.5,1101.00 1726.8,1120.67 1729.3,1122.64 1731.9,1124.92 1734.6,1125.06 1737.3,1124.79 1740.0,1125.25 1743.1,1126.31 1746.2,1128.30 1749.3,1130.42 1752.4,1131.98 1755.4,1131.54 1758.5,1133.67 1760.8,1135.37 1763.0,1136.83 1766.1,1136.59 1769.2,1135.56 1772.4,1136.12 1775.5,1136.64 1778.6,1136.25 1781.6,1130.42 1785.5,1098.33 1789.0,1090.58 1792.4,1111.17 1794.7,1134.17 1798.6,1142.00 1801.7,1143.61 1804.8,1145.17 1807.9,1143.81 1810.9,1145.38 1814.0,1143.92 1817.0,1136.83 1820.2,1117.50 1823.3,1106.00 1826.4,1117.50 1829.5,1134.17 1831.8,1139.38 1834.0,1144.58 1836.3,1147.19 1838.7,1147.75 1841.8,1147.53 1844.9,1148.52 1848.0,1149.67 1851.0,1151.25 1854.0,1154.83 1857.2,1157.35 1860.3,1158.67 1862.9,1157.75 1865.4,1157.03 1868.0,1157.42 1871.9,1154.83 1875.0,1136.83 1877.3,1124.00 1879.0,1122.75 1881.9,1136.83 1885.0,1154.83 1887.3,1156.91 1889.6,1159.33 1892.7,1159.59 1895.8,1158.75 1898.9,1157.42 1901.9,1157.98 1905.0,1158.82 1908.0,1160.67 1910.8,1161.14 1913.7,1159.96 1916.5,1159.81 1919.3,1158.05 1922.2,1157.56 1925.0,1158.08 1928.1,1159.01 1931.2,1158.95 1934.3,1158.71 1937.4,1161.10 1940.5,1160.67 1943.6,1161.32 1946.7,1162.05 1949.8,1160.86 1952.9,1162.91 1956.0,1162.50 1959.1,1161.25 1962.2,1162.66 1965.2,1161.46 1968.3,1161.25 1971.3,1158.36 1974.4,1156.17 1978.3,1149.08 1980.6,1147.17 1984.4,1153.58 1987.5,1163.17 1990.2,1164.41 1993.0,1165.42 1995.5,1166.04 1998.1,1164.30 2000.6,1164.50 2002.9,1162.40 2005.3,1161.92 2008.4,1162.45 2011.4,1162.31 2014.5,1162.51 2017.6,1163.83 2020.2,1164.60 2022.7,1165.86 2025.3,1168.33 2028.4,1167.90 2031.5,1168.34 2034.5,1168.54 2037.6,1169.73 2040.7,1168.92 2043.8,1169.58" fill="none" stroke="#000000" stroke-width="3.45" stroke-linejoin="round" stroke-linecap="butt"/></g>
<line x1="954.0" y1="125.0" x2="1047.1" y2="125.0" stroke="#000" stroke-width="4" />
<text transform="translate(1063.50,159.00) scale(0.9460,1)" font-family="'Liberation Serif',serif" font-size="65.00px" font-weight="normal" text-anchor="start" fill="#000"  stroke="#000" stroke-width="0.60" stroke-linejoin="round">O 1s</text>
<line x1="1454.1" y1="700.5" x2="1513.0" y2="669.3" stroke="#000" stroke-width="4" />
<text transform="translate(1523.00,697.40) scale(0.9460,1)" font-family="'Liberation Serif',serif" font-size="65.00px" font-weight="normal" text-anchor="start" fill="#000"  stroke="#000" stroke-width="0.60" stroke-linejoin="round">C 1s</text>
<text transform="translate(1702.00,696.30) scale(0.9460,1)" font-family="'Liberation Serif',serif" font-size="65.00px" font-weight="normal" text-anchor="start" fill="#000"  stroke="#000" stroke-width="0.60" stroke-linejoin="round">Si 2p</text>
<line x1="1789.7" y1="715.5" x2="1824.8" y2="749.9" stroke="#000" stroke-width="4" />
<text transform="translate(1856.50,703.20) scale(0.9460,1)" font-family="'Liberation Serif',serif" font-size="65.00px" font-weight="normal" text-anchor="start" fill="#000"  stroke="#000" stroke-width="0.60" stroke-linejoin="round">Al 2p</text>
<line x1="1917.7" y1="723.7" x2="1878.8" y2="761.8" stroke="#000" stroke-width="4" />
<line x1="1454.5" y1="1035.0" x2="1499.5" y2="992.0" stroke="#000" stroke-width="4" />
<text transform="translate(1504.50,1014.80) scale(0.9460,1)" font-family="'Liberation Serif',serif" font-size="65.00px" font-weight="normal" text-anchor="start" fill="#000"  stroke="#000" stroke-width="0.60" stroke-linejoin="round">C 1s</text>
<text transform="translate(1707.00,1012.00) scale(0.9460,1)" font-family="'Liberation Serif',serif" font-size="65.00px" font-weight="normal" text-anchor="start" fill="#000"  stroke="#000" stroke-width="0.60" stroke-linejoin="round">Si 2p</text>
<line x1="1807.0" y1="1029.9" x2="1828.7" y2="1070.3" stroke="#000" stroke-width="4" />
<text transform="translate(1871.50,1043.00) scale(0.9460,1)" font-family="'Liberation Serif',serif" font-size="65.00px" font-weight="normal" text-anchor="start" fill="#000"  stroke="#000" stroke-width="0.60" stroke-linejoin="round">Al 2p</text>
<line x1="1923.5" y1="1047.2" x2="1877.0" y2="1081.4" stroke="#000" stroke-width="4" />
<line x1="1454.5" y1="1305.2" x2="1504.7" y2="1257.1" stroke="#000" stroke-width="4" />
<text transform="translate(1513.00,1277.30) scale(0.9460,1)" font-family="'Liberation Serif',serif" font-size="65.00px" font-weight="normal" text-anchor="start" fill="#000"  stroke="#000" stroke-width="0.60" stroke-linejoin="round">C 1s</text>
<text transform="translate(1712.70,1276.80) scale(0.9460,1)" font-family="'Liberation Serif',serif" font-size="65.00px" font-weight="normal" text-anchor="start" fill="#000"  stroke="#000" stroke-width="0.60" stroke-linejoin="round">Si 2p</text>
<line x1="1801.4" y1="1289.0" x2="1824.0" y2="1325.7" stroke="#000" stroke-width="4" />
<text transform="translate(1879.30,1311.00) scale(0.9460,1)" font-family="'Liberation Serif',serif" font-size="65.00px" font-weight="normal" text-anchor="start" fill="#000"  stroke="#000" stroke-width="0.60" stroke-linejoin="round">Al 2p</text>
<line x1="1915.0" y1="1311.8" x2="1878.0" y2="1346.5" stroke="#000" stroke-width="4" />
<text transform="translate(538.50,874.30) scale(0.9460,1)" font-family="'Liberation Serif',serif" font-size="65.00px" font-weight="normal" text-anchor="start" fill="#000"  stroke="#000" stroke-width="0.60" stroke-linejoin="round">Fe 2p</text>
<line x1="599.8" y1="885.2" x2="640.3" y2="926.3" stroke="#000" stroke-width="4" />
<g shape-rendering="crispEdges"><rect x="544.4" y="1227.0" width="10.6" height="4.0" fill="#ff0000"/><rect x="565.2" y="1227.0" width="10.6" height="4.0" fill="#ff0000"/><rect x="586.1" y="1227.0" width="10.6" height="4.0" fill="#ff0000"/><rect x="606.9" y="1227.0" width="10.6" height="4.0" fill="#ff0000"/><rect x="627.7" y="1227.0" width="10.6" height="4.0" fill="#ff0000"/><rect x="648.5" y="1227.0" width="10.6" height="4.0" fill="#ff0000"/><rect x="669.4" y="1227.0" width="10.6" height="4.0" fill="#ff0000"/><rect x="690.2" y="1227.0" width="10.6" height="4.0" fill="#ff0000"/><rect x="711.0" y="1227.0" width="10.6" height="4.0" fill="#ff0000"/><rect x="543.0" y="590.0" width="4.0" height="3.0" fill="#ff0000"/><rect x="557.2" y="590.0" width="10.6" height="3.0" fill="#ff0000"/><rect x="578.0" y="590.0" width="10.6" height="3.0" fill="#ff0000"/><rect x="598.9" y="590.0" width="10.6" height="3.0" fill="#ff0000"/><rect x="619.7" y="590.0" width="10.6" height="3.0" fill="#ff0000"/><rect x="640.5" y="590.0" width="10.6" height="3.0" fill="#ff0000"/><rect x="661.4" y="590.0" width="10.6" height="3.0" fill="#ff0000"/><rect x="682.2" y="590.0" width="10.6" height="3.0" fill="#ff0000"/><rect x="703.0" y="590.0" width="10.6" height="3.0" fill="#ff0000"/><rect x="723.8" y="590.0" width="4.2" height="3.0" fill="#ff0000"/><rect x="543.0" y="594.1" width="3.0" height="10.6" fill="#ff0000"/><rect x="543.0" y="614.9" width="3.0" height="10.6" fill="#ff0000"/><rect x="543.0" y="635.8" width="3.0" height="10.6" fill="#ff0000"/><rect x="543.0" y="656.6" width="3.0" height="10.6" fill="#ff0000"/><rect x="543.0" y="677.4" width="3.0" height="10.6" fill="#ff0000"/><rect x="543.0" y="698.2" width="3.0" height="10.6" fill="#ff0000"/><rect x="543.0" y="719.1" width="3.0" height="10.6" fill="#ff0000"/><rect x="543.0" y="739.9" width="3.0" height="10.6" fill="#ff0000"/><rect x="543.0" y="760.7" width="3.0" height="10.6" fill="#ff0000"/><rect x="543.0" y="781.6" width="3.0" height="10.6" fill="#ff0000"/><rect x="543.0" y="802.4" width="3.0" height="10.6" fill="#ff0000"/><rect x="543.0" y="823.2" width="3.0" height="10.6" fill="#ff0000"/><rect x="543.0" y="844.1" width="3.0" height="10.6" fill="#ff0000"/><rect x="543.0" y="864.9" width="3.0" height="10.6" fill="#ff0000"/><rect x="543.0" y="885.7" width="3.0" height="10.6" fill="#ff0000"/><rect x="543.0" y="906.5" width="3.0" height="10.6" fill="#ff0000"/><rect x="543.0" y="927.4" width="3.0" height="10.6" fill="#ff0000"/><rect x="543.0" y="948.2" width="3.0" height="10.6" fill="#ff0000"/><rect x="543.0" y="969.0" width="3.0" height="10.6" fill="#ff0000"/><rect x="543.0" y="989.9" width="3.0" height="10.6" fill="#ff0000"/><rect x="543.0" y="1010.7" width="3.0" height="10.6" fill="#ff0000"/><rect x="543.0" y="1031.5" width="3.0" height="10.6" fill="#ff0000"/><rect x="543.0" y="1052.4" width="3.0" height="10.6" fill="#ff0000"/><rect x="543.0" y="1073.2" width="3.0" height="10.6" fill="#ff0000"/><rect x="543.0" y="1094.0" width="3.0" height="10.6" fill="#ff0000"/><rect x="543.0" y="1114.8" width="3.0" height="10.6" fill="#ff0000"/><rect x="543.0" y="1135.7" width="3.0" height="10.6" fill="#ff0000"/><rect x="543.0" y="1156.5" width="3.0" height="10.6" fill="#ff0000"/><rect x="543.0" y="1177.3" width="3.0" height="10.6" fill="#ff0000"/><rect x="543.0" y="1198.2" width="3.0" height="10.6" fill="#ff0000"/><rect x="543.0" y="1219.0" width="3.0" height="10.6" fill="#ff0000"/><rect x="725.0" y="590.0" width="3.0" height="9.7" fill="#ff0000"/><rect x="725.0" y="609.9" width="3.0" height="10.6" fill="#ff0000"/><rect x="725.0" y="630.8" width="3.0" height="10.6" fill="#ff0000"/><rect x="725.0" y="651.6" width="3.0" height="10.6" fill="#ff0000"/><rect x="725.0" y="672.4" width="3.0" height="10.6" fill="#ff0000"/><rect x="725.0" y="693.2" width="3.0" height="10.6" fill="#ff0000"/><rect x="725.0" y="714.1" width="3.0" height="10.6" fill="#ff0000"/><rect x="725.0" y="734.9" width="3.0" height="10.6" fill="#ff0000"/><rect x="725.0" y="755.7" width="3.0" height="10.6" fill="#ff0000"/><rect x="725.0" y="776.6" width="3.0" height="10.6" fill="#ff0000"/><rect x="725.0" y="797.4" width="3.0" height="10.6" fill="#ff0000"/><rect x="725.0" y="818.2" width="3.0" height="10.6" fill="#ff0000"/><rect x="725.0" y="839.1" width="3.0" height="10.6" fill="#ff0000"/><rect x="725.0" y="859.9" width="3.0" height="10.6" fill="#ff0000"/><rect x="725.0" y="880.7" width="3.0" height="10.6" fill="#ff0000"/><rect x="725.0" y="901.5" width="3.0" height="10.6" fill="#ff0000"/><rect x="725.0" y="922.4" width="3.0" height="10.6" fill="#ff0000"/><rect x="725.0" y="943.2" width="3.0" height="10.6" fill="#ff0000"/><rect x="725.0" y="964.0" width="3.0" height="10.6" fill="#ff0000"/><rect x="725.0" y="984.9" width="3.0" height="10.6" fill="#ff0000"/><rect x="725.0" y="1005.7" width="3.0" height="10.6" fill="#ff0000"/><rect x="725.0" y="1026.5" width="3.0" height="10.6" fill="#ff0000"/><rect x="725.0" y="1047.4" width="3.0" height="10.6" fill="#ff0000"/><rect x="725.0" y="1068.2" width="3.0" height="10.6" fill="#ff0000"/><rect x="725.0" y="1089.0" width="3.0" height="10.6" fill="#ff0000"/><rect x="725.0" y="1109.8" width="3.0" height="10.6" fill="#ff0000"/><rect x="725.0" y="1130.7" width="3.0" height="10.6" fill="#ff0000"/><rect x="725.0" y="1151.5" width="3.0" height="10.6" fill="#ff0000"/><rect x="725.0" y="1172.3" width="3.0" height="10.6" fill="#ff0000"/><rect x="725.0" y="1193.2" width="3.0" height="10.6" fill="#ff0000"/><rect x="725.0" y="1214.0" width="3.0" height="10.6" fill="#ff0000"/></g>
<g shape-rendering="crispEdges"><rect x="124.0" y="49.0" width="7.0" height="1427.0" fill="#000"/>
<rect x="2040.0" y="49.0" width="7.0" height="1427.0" fill="#000"/>
<rect x="127.0" y="47.0" width="1917.0" height="6.0" fill="#000"/>
<rect x="127.0" y="1472.0" width="1917.0" height="7.0" fill="#000"/>
<rect x="1889.0" y="1466.0" width="7.0" height="7.0" fill="#000"/>
<rect x="1738.0" y="1458.0" width="7.0" height="15.0" fill="#000"/>
<rect x="1586.0" y="1466.0" width="7.0" height="7.0" fill="#000"/>
<rect x="1435.0" y="1458.0" width="7.0" height="15.0" fill="#000"/>
<rect x="1284.0" y="1466.0" width="7.0" height="7.0" fill="#000"/>
<rect x="1132.0" y="1458.0" width="7.0" height="15.0" fill="#000"/>
<rect x="981.0" y="1466.0" width="7.0" height="7.0" fill="#000"/>
<rect x="830.0" y="1458.0" width="7.0" height="15.0" fill="#000"/>
<rect x="679.0" y="1466.0" width="7.0" height="7.0" fill="#000"/>
<rect x="527.0" y="1458.0" width="7.0" height="15.0" fill="#000"/>
<rect x="376.0" y="1466.0" width="7.0" height="7.0" fill="#000"/>
<rect x="225.0" y="1458.0" width="7.0" height="15.0" fill="#000"/></g>
<text transform="translate(2044.30,1536.30)" font-family="'Liberation Sans',sans-serif" font-size="53.50px" font-weight="normal" text-anchor="middle" fill="#000" letter-spacing="1.3" stroke="#000" stroke-width="0.30" stroke-linejoin="round">0</text>
<text transform="translate(1741.75,1536.30)" font-family="'Liberation Sans',sans-serif" font-size="53.50px" font-weight="normal" text-anchor="middle" fill="#000" letter-spacing="1.3" stroke="#000" stroke-width="0.30" stroke-linejoin="round">150</text>
<text transform="translate(1439.20,1536.30)" font-family="'Liberation Sans',sans-serif" font-size="53.50px" font-weight="normal" text-anchor="middle" fill="#000" letter-spacing="1.3" stroke="#000" stroke-width="0.30" stroke-linejoin="round">300</text>
<text transform="translate(1136.65,1536.30)" font-family="'Liberation Sans',sans-serif" font-size="53.50px" font-weight="normal" text-anchor="middle" fill="#000" letter-spacing="1.3" stroke="#000" stroke-width="0.30" stroke-linejoin="round">450</text>
<text transform="translate(834.10,1536.30)" font-family="'Liberation Sans',sans-serif" font-size="53.50px" font-weight="normal" text-anchor="middle" fill="#000" letter-spacing="1.3" stroke="#000" stroke-width="0.30" stroke-linejoin="round">600</text>
<text transform="translate(531.55,1536.30)" font-family="'Liberation Sans',sans-serif" font-size="53.50px" font-weight="normal" text-anchor="middle" fill="#000" letter-spacing="1.3" stroke="#000" stroke-width="0.30" stroke-linejoin="round">750</text>
<text transform="translate(229.00,1536.30)" font-family="'Liberation Sans',sans-serif" font-size="53.50px" font-weight="normal" text-anchor="middle" fill="#000" letter-spacing="1.3" stroke="#000" stroke-width="0.30" stroke-linejoin="round">900</text>
<text transform="translate(1085.70,1607.60)" font-family="'Liberation Serif',serif" font-size="65.60px" font-weight="normal" text-anchor="middle" fill="#000"  stroke="#000" stroke-width="0.60" stroke-linejoin="round">Binding energy (eV)</text>
<text transform="translate(87.50,810.00) rotate(-90)" font-family="'Liberation Serif',serif" font-size="74.50px" font-weight="normal" text-anchor="middle" fill="#000"  stroke="#000" stroke-width="0.60" stroke-linejoin="round">Counts (s)</text>
</svg>
</body></html>
